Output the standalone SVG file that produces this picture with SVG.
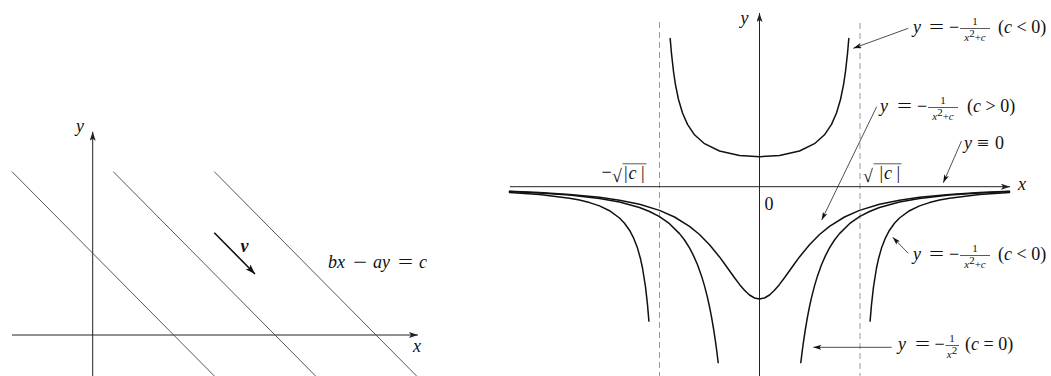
<svg xmlns="http://www.w3.org/2000/svg" width="1051" height="376" viewBox="0 0 1051 376">
<style>
.m{font-family:"Liberation Serif",serif;font-style:italic;font-size:18px;fill:#111}
.r{font-family:"Liberation Serif",serif;font-style:normal;font-size:18px;fill:#111}
.fs{font-family:"Liberation Serif",serif;font-style:italic;font-size:11px;fill:#111}
.fr{font-family:"Liberation Serif",serif;font-style:normal;font-size:11px;fill:#111}
.ax{stroke:#222;stroke-width:1;fill:none}
.ln{stroke:#444;stroke-width:0.9;fill:none}
.cv{stroke:#111;stroke-width:1.5;fill:none;stroke-linejoin:round;stroke-linecap:round}
.da{stroke:#999;stroke-width:1;stroke-dasharray:6,4;fill:none}
.pt{stroke:#222;stroke-width:0.8;fill:none}
.bar{stroke:#111;stroke-width:0.7}
</style>
<defs>
<marker id="ah" markerUnits="userSpaceOnUse" markerWidth="9" markerHeight="6" viewBox="0 0 9 6" refX="9" refY="3" orient="auto"><path d="M0,0 L9,3 L0,6 L2,3 z" fill="#222"/></marker>
<marker id="ap" markerUnits="userSpaceOnUse" markerWidth="8" markerHeight="5" viewBox="0 0 8 5" refX="8" refY="2.5" orient="auto"><path d="M0,0 L8,2.5 L0,5 L1.8,2.5 z" fill="#111"/></marker>
<marker id="av" markerUnits="userSpaceOnUse" markerWidth="10" markerHeight="7" viewBox="0 0 10 7" refX="10" refY="3.5" orient="auto"><path d="M0,0 L10,3.5 L0,7 L2.2,3.5 z" fill="#111"/></marker>
</defs>

<g id="left-panel">
  <g id="left-axes">
    <line class="ax" x1="12" y1="335" x2="418" y2="335" marker-end="url(#ah)"/>
    <line class="ax" x1="92.7" y1="376" x2="92.7" y2="131.7" marker-end="url(#ah)"/>
    <text class="m" x="413" y="351.5">x</text>
    <text class="m" x="76" y="132">y</text>
  </g>
  <g id="lines">
    <line class="ln" x1="12" y1="171.7" x2="214.3" y2="376"/>
    <line class="ln" x1="113.3" y1="171.7" x2="315.6" y2="376"/>
    <line class="ln" x1="214.3" y1="171.7" x2="416.6" y2="376"/>
  </g>
  <g id="vector-v">
    <line x1="214.3" y1="232.7" x2="255" y2="274" stroke="#111" stroke-width="1.6" marker-end="url(#av)"/>
    <text x="240.5" y="251.5" font-family="Liberation Serif, serif" font-style="italic" font-weight="bold" font-size="18" fill="#111">v</text>
  </g>
  <g id="line-label">
    <text class="m" x="328" y="268" font-size="20">bx</text>
    <text class="r" x="353" y="268" font-size="20" textLength="14" lengthAdjust="spacingAndGlyphs">−</text>
    <text class="m" x="373" y="268" font-size="20">ay</text>
    <text class="r" x="398" y="268" font-size="20" textLength="15" lengthAdjust="spacingAndGlyphs">=</text>
    <text class="m" x="419" y="268" font-size="20">c</text>
  </g>
</g>

<g id="right-panel">
  <g id="right-axes">
    <line class="da" x1="659.5" y1="22" x2="659.5" y2="376"/>
    <line class="da" x1="860" y1="23" x2="860" y2="376"/>
    <line class="ax" x1="510" y1="186.7" x2="1010" y2="186.7" marker-end="url(#ah)"/>
    <line class="ax" x1="759.5" y1="376" x2="759.5" y2="13" marker-end="url(#ah)"/>
    <text class="m" x="740.5" y="24">y</text>
    <text class="m" x="1018" y="190">x</text>
    <text class="r" x="764.5" y="210" font-size="16">0</text>
    <g id="neg-sqrt">
      <text class="r" x="601.5" y="178">−</text>
      <text class="r" x="612" y="182" font-size="21">√</text>
      <line class="bar" x1="622.5" y1="163.8" x2="646.5" y2="163.8"/>
      <text class="r" x="624" y="179">|</text>
      <text class="m" x="628.5" y="179">c</text>
      <text class="r" x="641" y="179">|</text>
    </g>
    <g id="pos-sqrt">
      <text class="r" x="863" y="182" font-size="21">√</text>
      <line class="bar" x1="873.5" y1="163.8" x2="901.5" y2="163.8"/>
      <text class="r" x="879.5" y="179">|</text>
      <text class="m" x="884" y="179">c</text>
      <text class="r" x="896.5" y="179">|</text>
    </g>
  </g>

  <g id="curve-c-neg-upper">
    <path class="cv" d="M670.2,38.6 L671.5,53.7 L673.5,71.5 L675.5,84.8 L678.5,99.5 L682.5,113.0 L687.5,124.4 L694.5,134.8 L704.5,143.7 L719.5,151.0 L739.5,155.5 L759.5,156.7 L779.5,155.5 L799.5,151.0 L814.5,143.7 L824.5,134.8 L831.5,124.4 L836.5,113.0 L840.5,99.5 L843.5,84.8 L845.5,71.5 L847.5,53.7 L848.8,38.6"/>
  </g>
  <g id="curve-c-neg-lower">
    <path class="cv" d="M509.5,192.4 L539.5,194.5 L569.5,198.2 L579.5,200.1 L589.5,202.6 L599.5,205.9 L609.5,210.7 L619.5,218.0 L624.5,223.2 L629.5,230.2 L633.5,237.8 L637.5,248.1 L640.5,258.8 L642.5,268.0 L645.5,286.8 L647.5,304.6 L648.9,321.1"/>
    <path class="cv" d="M1009.5,192.4 L979.5,194.5 L949.5,198.2 L939.5,200.1 L929.5,202.6 L919.5,205.9 L909.5,210.7 L899.5,218.0 L894.5,223.2 L889.5,230.2 L885.5,237.8 L881.5,248.1 L878.5,258.8 L876.5,268.0 L873.5,286.8 L871.5,304.6 L870.1,321.1"/>
  </g>
  <g id="curve-c-zero">
    <path class="cv" d="M509.5,191.5 L539.5,192.9 L569.5,195.0 L599.5,198.4 L619.5,202.0 L639.5,207.5 L649.5,211.5 L659.5,216.7 L669.5,223.7 L679.5,233.6 L684.5,240.0 L689.5,247.9 L693.5,255.6 L697.5,264.7 L701.5,275.9 L704.5,285.9 L707.5,297.6 L709.5,306.7 L711.5,316.9 L713.5,328.5 L715.5,341.7 L716.5,349.0 L718.2,362.6"/>
    <path class="cv" d="M1009.5,191.5 L979.5,192.9 L949.5,195.0 L919.5,198.4 L899.5,202.0 L879.5,207.5 L869.5,211.5 L859.5,216.7 L849.5,223.7 L839.5,233.6 L834.5,240.0 L829.5,247.9 L825.5,255.6 L821.5,264.7 L817.5,275.9 L814.5,285.9 L811.5,297.6 L809.5,306.7 L807.5,316.9 L805.5,328.5 L803.5,341.7 L802.5,349.0 L800.8,362.6"/>
  </g>
  <g id="curve-c-pos">
    <path class="cv" d="M509.5,191.3 L539.5,192.6 L569.5,194.4 L599.5,197.3 L619.5,200.2 L639.5,204.3 L659.5,210.4 L674.5,217.0 L689.5,226.3 L699.5,234.5 L709.5,244.7 L719.5,256.9 L724.5,263.7 L729.5,270.7 L734.5,277.7 L739.5,284.4 L744.5,290.3 L749.5,295.0 L754.5,298.0 L759.5,299.0 L764.5,298.0 L769.5,295.0 L774.5,290.3 L779.5,284.4 L784.5,277.7 L789.5,270.7 L794.5,263.7 L799.5,256.9 L809.5,244.7 L819.5,234.5 L829.5,226.3 L844.5,217.0 L859.5,210.4 L879.5,204.3 L899.5,200.2 L919.5,197.3 L949.5,194.4 L979.5,192.6 L1009.5,191.3"/>
  </g>

  <g id="connectors">
    <line class="pt" x1="908.3" y1="28.3" x2="853.3" y2="48.3" marker-end="url(#ap)"/>
    <line class="pt" x1="876.7" y1="106.7" x2="821.7" y2="220" marker-end="url(#ap)"/>
    <line class="pt" x1="961.5" y1="141" x2="943.3" y2="182.7" marker-end="url(#ap)"/>
    <line class="pt" x1="908.3" y1="253.3" x2="892.7" y2="237.3" marker-end="url(#ap)"/>
    <line class="pt" x1="891.7" y1="347.3" x2="813.3" y2="347.3" marker-end="url(#ap)"/>
  </g>

  <g id="label-c-neg-top" transform="translate(913,33)">
    <text class="m" x="0" y="0">y</text>
    <text class="r" x="16" y="0" textLength="15" lengthAdjust="spacingAndGlyphs">=</text>
    <text class="r" x="36" y="0">−</text>
    <line class="bar" x1="47" y1="-4.5" x2="77" y2="-4.5"/>
    <text class="fr" x="62" y="-8" text-anchor="middle">1</text>
    <text class="fs" x="62" y="7.5" text-anchor="middle">x<tspan class="fr" font-size="8" dy="-4">2</tspan><tspan class="fr" dy="4">+</tspan>c</text>
    <text class="r" x="85" y="0">(<tspan class="m">c</tspan> &lt; 0)</text>
  </g>
  <g id="label-c-pos" transform="translate(880,112)">
    <text class="m" x="0" y="0">y</text>
    <text class="r" x="17" y="0" textLength="15" lengthAdjust="spacingAndGlyphs">=</text>
    <text class="r" x="37" y="0">−</text>
    <line class="bar" x1="48" y1="-4.5" x2="78" y2="-4.5"/>
    <text class="fr" x="63" y="-8" text-anchor="middle">1</text>
    <text class="fs" x="63" y="7.5" text-anchor="middle">x<tspan class="fr" font-size="8" dy="-4">2</tspan><tspan class="fr" dy="4">+</tspan>c</text>
    <text class="r" x="87" y="0">(<tspan class="m">c</tspan> &gt; 0)</text>
  </g>
  <g id="label-zero">
    <text class="m" x="964" y="149">y</text>
    <text class="r" x="977" y="149" textLength="12" lengthAdjust="spacingAndGlyphs">≡</text>
    <text class="r" x="995" y="149">0</text>
  </g>
  <g id="label-c-neg-bottom" transform="translate(913,260)">
    <text class="m" x="0" y="0">y</text>
    <text class="r" x="16" y="0" textLength="15" lengthAdjust="spacingAndGlyphs">=</text>
    <text class="r" x="36" y="0">−</text>
    <line class="bar" x1="47" y1="-4.5" x2="77" y2="-4.5"/>
    <text class="fr" x="62" y="-8" text-anchor="middle">1</text>
    <text class="fs" x="62" y="7.5" text-anchor="middle">x<tspan class="fr" font-size="8" dy="-4">2</tspan><tspan class="fr" dy="4">+</tspan>c</text>
    <text class="r" x="85" y="0">(<tspan class="m">c</tspan> &lt; 0)</text>
  </g>
  <g id="label-c-zero" transform="translate(898,350)">
    <text class="m" x="0" y="0">y</text>
    <text class="r" x="17" y="0" textLength="15" lengthAdjust="spacingAndGlyphs">=</text>
    <text class="r" x="36.5" y="0">−</text>
    <line class="bar" x1="47.5" y1="-4.5" x2="61" y2="-4.5"/>
    <text class="fr" x="54" y="-8" text-anchor="middle">1</text>
    <text class="fs" x="54" y="7.5" text-anchor="middle">x<tspan class="fr" font-size="8" dy="-4">2</tspan></text>
    <text class="r" x="67" y="0">(<tspan class="m">c</tspan> = 0)</text>
  </g>
</g>
</svg>
